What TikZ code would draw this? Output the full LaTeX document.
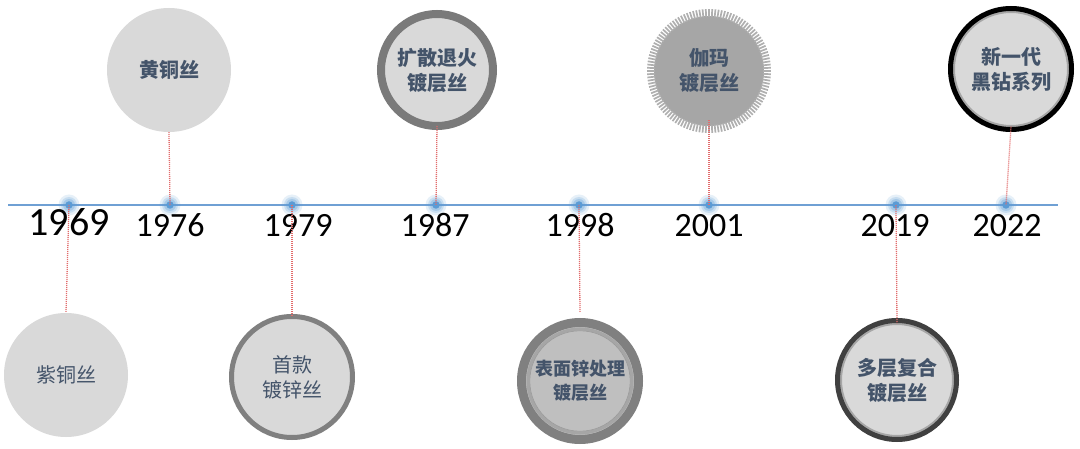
\documentclass[tikz,border=0pt]{standalone}
\usepackage{fontspec}
\usetikzlibrary{calc}
\setmainfont{Carlito}
\newfontfamily\cjk{Noto Sans CJK SC}
\definecolor{lineblue}{HTML}{6FA0D4}
\definecolor{dotblue}{HTML}{5B9BD5}
\definecolor{conred}{HTML}{E26B6B}
\definecolor{txt}{HTML}{44546A}
\definecolor{g1}{HTML}{D9D9D9}
\definecolor{g2}{HTML}{BFBFBF}
\definecolor{g3}{HTML}{A6A6A6}
\definecolor{g4}{HTML}{808080}
\definecolor{g5}{HTML}{404040}
\tikzset{
  disc/.style={circle, fill=g1, inner sep=0pt, align=center, text=txt,
    font=\cjk\fontsize{20}{25}\selectfont},
  bdisc/.style={disc, font=\cjk\bfseries\fontsize{20}{25}\selectfont},
  conn/.style={draw=conred, dash pattern=on 1pt off 1pt, line width=1.3pt},
  tl/.style={draw=lineblue, line width=1.1pt},
  yr/.style={anchor=base, text=black, font=\fontsize{34}{34}\selectfont},
  dotn/.style={circle, fill=dotblue, inner sep=0pt, minimum size=7.5pt},
}
\newcommand{\glowat}[1]{%
  \fill[dotblue, opacity=0.15] #1 circle (10.5);
  \fill[dotblue, opacity=0.22] #1 circle (8);
  \fill[dotblue, opacity=0.3] #1 circle (6);
}
\begin{document}
\begin{tikzpicture}[x=1pt, y=-1pt]
\useasboundingbox (0,0) rectangle (1080,449);
\fill[white] (0,0) rectangle (1080,449);
% timeline
\coordinate (tlA) at (8,205);
\coordinate (tlB) at (1058,205);
\draw[tl] (tlA) -- (tlB);
% glows
\foreach \x in {69,170,292,436,579,709,896,1006} {\glowat{(\x,205)}}
% dots
\node[dotn] (d1969) at (69,205) {};
\node[dotn] (d1976) at (170,205) {};
\node[dotn] (d1979) at (292,205) {};
\node[dotn] (d1987) at (436,205) {};
\node[dotn] (d1998) at (579,205) {};
\node[dotn] (d2001) at (709,205) {};
\node[dotn] (d2019) at (896,205) {};
\node[dotn] (d2022) at (1006,205) {};
% years
\node[yr, font=\fontsize{40}{40}\selectfont] (y1969) at (69,236) {1969};
\node[yr] (y1976) at (170,237) {1976};
\node[yr] (y1979) at (298,237) {1979};
\node[yr] (y1987) at (435,237) {1987};
\node[yr] (y1998) at (580,237) {1998};
\node[yr] (y2001) at (709,237) {2001};
\node[yr] (y2019) at (895,237) {2019};
\node[yr] (y2022) at (1007,237) {2022};
% circles
\node[disc, minimum size=124pt] (c1969) at (66,375) {紫铜丝};
\node[bdisc, minimum size=124pt] (c1976) at (169,70) {黄铜丝};
\node[disc, draw=g4, line width=5pt, minimum size=121pt] (c1979) at (292,377) {首款\\镀锌丝};
\node[bdisc, draw=g4!95!black, line width=8pt, minimum size=112pt] (c1987) at (437,70) {扩散退火\\镀层丝};
% 1998
\node[bdisc, fill=g2, draw=g4, line width=9pt, minimum size=117pt] (c1998) at (580,381) {};
\draw[g3, line width=3pt] (c1998.center) circle (52);
\draw[g4!80, line width=0.6pt] (c1998.center) circle (50.2);
\node[text=txt, align=center, font=\cjk\bfseries\fontsize{18}{24}\selectfont] (t1998) at (c1998.center) {表面锌处理\\镀层丝};
% 2001
\node[bdisc, fill=g3, minimum size=110pt] (c2001) at (709,71) {};
\foreach \a in {0,3,...,357} {
  \draw[g3!90!white, line width=1.7pt] ($(c2001.center)+(\a:54)$) -- ($(c2001.center)+(\a:62)$);
}
\node[text=txt, align=center, font=\cjk\bfseries\fontsize{20}{25}\selectfont] (t2001) at (c2001.center) {伽玛\\镀层丝};
% 2019
\node[bdisc, minimum size=119pt] (c2019) at (897,380) {};
\draw[g4!70!white, line width=3pt] (c2019.center) circle (56.5);
\draw[g5, line width=5pt] (c2019.center) circle (59.5);
\node[text=txt, align=center, font=\cjk\bfseries\fontsize{20}{25}\selectfont] (t2019) at (c2019.center) {多层复合\\镀层丝};
% 2022
\node[bdisc, minimum size=121pt] (c2022) at (1011,69) {};
\draw[g4!70!white, line width=3pt] (c2022.center) circle (57.5);
\draw[black, line width=5pt] (c2022.center) circle (60.5);
\node[text=txt, align=center, font=\cjk\bfseries\fontsize{20}{25}\selectfont] (t2022) at (c2022.center) {新一代\\黑钻系列};
% connectors
\draw[conn] (d1969.center) -- (c1969.north);
\draw[conn] (c1976.south) -- (d1976.center);
\draw[conn] (d1979.center) -- ([yshift=-2pt]c1979.north);
\draw[conn] ([yshift=4pt]c1987.south) -- (d1987.center);
\draw[conn] (d1998.center) -- ([yshift=6pt]c1998.north);
\draw[conn] ([yshift=6pt]c2001.south) -- (d2001.center);
\draw[conn] (d2019.center) -- ([yshift=-3pt]c2019.north);
\draw[conn] ([yshift=3pt]c2022.south) -- (d2022.center);
\end{tikzpicture}
\end{document}
